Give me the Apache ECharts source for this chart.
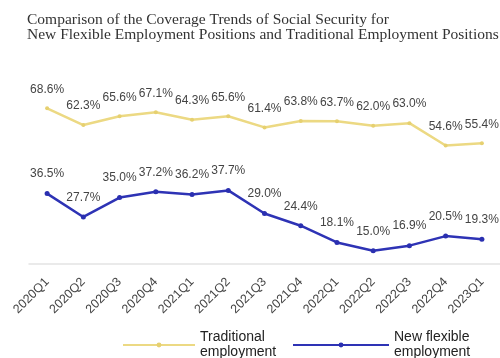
<!DOCTYPE html>
<html>
<head>
    <meta charset="utf-8">
    <title>ECharts</title>
    <script src="https://cdn.jsdelivr.net/npm/echarts@6/dist/echarts.min.js"></script>
    <style>body{margin:0;background:#fff;}</style>
</head>
<body>
    <div id="main" style="width: 500px;height:358px;"></div>
    <script type="text/javascript">
        // 数据
        var quarters = ['2020Q1', '2020Q2', '2020Q3', '2020Q4', '2021Q1', '2021Q2', '2021Q3', '2021Q4',
                        '2022Q1', '2022Q2', '2022Q3', '2022Q4', '2023Q1'];
        var traditional = [68.6, 62.3, 65.6, 67.1, 64.3, 65.6, 61.4, 63.8, 63.7, 62.0, 63.0, 54.6, 55.4];
        var flexible = [36.5, 27.7, 35.0, 37.2, 36.2, 37.7, 29.0, 24.4, 18.1, 15.0, 16.9, 20.5, 19.3];

        var myChart = echarts.init(document.getElementById('main'));

        var labelStyle = {
            show: true,
            position: 'top',
            distance: 11,
            color: '#444',
            fontSize: 12,
            fontFamily: 'Liberation Sans',
            formatter: function (p) { return p.value.toFixed(1) + '%'; }
        };

        var legendText = {
            fontFamily: 'Liberation Sans',
            fontSize: 14,
            lineHeight: 15,
            color: '#222'
        };

        var option = {
            backgroundColor: '#fff',
            animation: false,
            title: {
                text: 'Comparison of the Coverage Trends of Social Security for\nNew Flexible Employment Positions and Traditional Employment Positions',
                left: 22,
                top: 8,
                textStyle: {
                    fontFamily: 'Liberation Serif',
                    fontWeight: 'normal',
                    fontSize: 15.5,
                    lineHeight: 14.5,
                    color: '#333'
                }
            },
            // 两个图例，图标长度不同
            legend: [{
                left: 117,
                top: 325,
                itemWidth: 72,
                itemHeight: 6,
                textStyle: legendText,
                data: ['Traditional\nemployment']
            }, {
                left: 287,
                top: 325,
                itemWidth: 96,
                itemHeight: 6,
                textStyle: legendText,
                data: ['New flexible\nemployment']
            }],
            grid: {
                top: 78,
                left: 29,
                right: -6,
                bottom: 94
            },
            xAxis: {
                type: 'category',
                boundaryGap: true,
                data: quarters,
                axisLine: { lineStyle: { color: '#e3e3e3', width: 1.5 } },
                axisTick: { show: false },
                axisLabel: {
                    rotate: 45,
                    interval: 0,
                    color: '#444',
                    fontSize: 12.5,
                    fontFamily: 'Liberation Sans',
                    margin: 16
                }
            },
            yAxis: {
                type: 'value',
                show: false,
                min: 10,
                max: 80,
                splitLine: { show: false }
            },
            series: [{
                name: 'Traditional\nemployment',
                type: 'line',
                data: traditional,
                symbol: 'circle',
                symbolSize: 4,
                lineStyle: { color: '#ecd983', width: 2.5 },
                itemStyle: { color: '#e6d070' },
                label: labelStyle
            }, {
                name: 'New flexible\nemployment',
                type: 'line',
                data: flexible,
                symbol: 'circle',
                symbolSize: 5,
                lineStyle: { color: '#2e33b5', width: 2.5 },
                itemStyle: { color: '#2a2fb0' },
                label: labelStyle
            }]
        };

        myChart.setOption(option);
    </script>
</body>
</html>
